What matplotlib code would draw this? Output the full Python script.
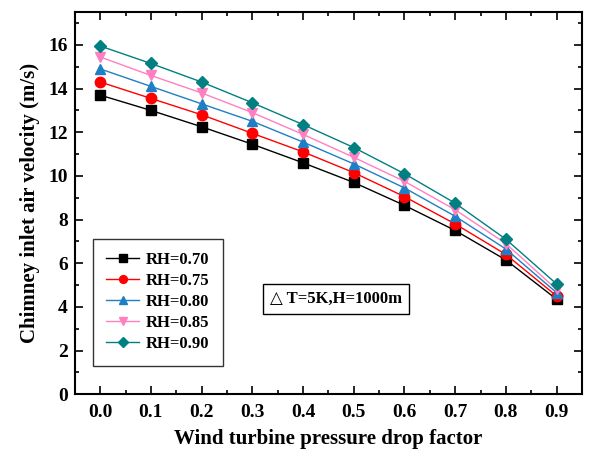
import matplotlib
matplotlib.use("Agg")
import matplotlib.pyplot as plt
from matplotlib.ticker import MultipleLocator

plt.rcParams['font.family'] = ['Liberation Serif', 'DejaVu Serif']
plt.rcParams['font.weight'] = 'bold'

x = [0.0, 0.1, 0.2, 0.3, 0.4, 0.5, 0.6, 0.7, 0.8, 0.9]
rh070 = [13.7, 13.0, 12.25, 11.45, 10.6, 9.7, 8.65, 7.5, 6.15, 4.35]
rh075 = [14.3, 13.55, 12.8, 11.95, 11.1, 10.15, 9.05, 7.8, 6.4, 4.5]
rh080 = [14.9, 14.1, 13.3, 12.5, 11.55, 10.55, 9.45, 8.15, 6.65, 4.65]
rh085 = [15.45, 14.6, 13.8, 12.9, 11.9, 10.85, 9.75, 8.45, 6.9, 4.8]
rh090 = [15.95, 15.15, 14.3, 13.35, 12.35, 11.3, 10.1, 8.75, 7.1, 5.05]

series = [
    ("RH=0.70", rh070, 'black', 's'),
    ("RH=0.75", rh075, 'red', 'o'),
    ("RH=0.80", rh080, '#1f7fc4', '^'),
    ("RH=0.85", rh085, '#ff80c0', 'v'),
    ("RH=0.90", rh090, '#008080', 'D'),
]

fig = plt.figure(figsize=(5.89, 4.5), dpi=100)
ax = fig.add_axes([0.127, 0.124, 0.861, 0.849])

for label, y, c, m in series:
    ms = 6.5 if m == 'D' else 7.5
    ax.plot(x, y, color=c, marker=m, markersize=ms, linewidth=1, label=label)

ax.set_xlim(-0.05, 0.95)
ax.set_ylim(0, 17.5)
ax.xaxis.set_minor_locator(MultipleLocator(0.05))
ax.yaxis.set_major_locator(MultipleLocator(2))
ax.yaxis.set_minor_locator(MultipleLocator(1))
ax.set_xticks(x)
ax.set_xticklabels([f"{v:.1f}" for v in x])
ax.tick_params(which='both', direction='in', top=True, right=True, width=1.2, labelsize=14)
ax.tick_params(which='major', length=6)
ax.tick_params(which='minor', length=3)
ax.tick_params(axis='x', pad=7)
ax.tick_params(axis='y', pad=5)
for s in ax.spines.values():
    s.set_linewidth(1.5)

ax.set_xlabel("Wind turbine pressure drop factor", fontsize=15, fontweight='bold', labelpad=6)
ax.set_ylabel("Chimney inlet air velocity (m/s)", fontsize=15, fontweight='bold', labelpad=6)

leg = ax.legend(loc='lower left', bbox_to_anchor=(0.035, 0.075), fontsize=12,
                frameon=True, fancybox=False, edgecolor='black', handlelength=2.0,
                markerscale=0.75, borderpad=0.8, labelspacing=0.3, handletextpad=0.4,
                borderaxespad=0)
leg.get_frame().set_linewidth(1.0)

ax.text(0.385, 0.249, "\u25b3 T=5K,H=1000m", transform=ax.transAxes, fontsize=12,
        fontweight='bold', va='center', ha='left',
        bbox=dict(boxstyle='square,pad=0.4', facecolor='white', edgecolor='black', linewidth=1))

fig.savefig("out.png", dpi=100)
